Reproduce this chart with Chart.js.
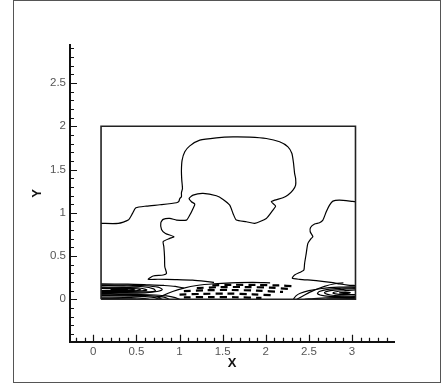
<!DOCTYPE html>
<html>
<head>
<meta charset="utf-8">
<script src="https://cdn.jsdelivr.net/npm/chart.js@4.4.0/dist/chart.umd.min.js"></script>
<style>
  html, body { margin: 0; padding: 0; background: #fff; }
  #wrap { position: relative; width: 441px; height: 387px; }
  #frame { position: absolute; left: 13px; top: 0px; width: 426px; height: 381px; border: 1.5px solid #555; pointer-events: none; }
  canvas { position: absolute; left: 0; top: 0; }
</style>
</head>
<body>
<div id="wrap">
  <canvas id="c" width="441" height="387"></canvas>
  <div id="frame"></div>
</div>
<script>
// ---- tick labels / axis extents ----
const xTickValues = [0, 0.5, 1, 1.5, 2, 2.5, 3];
const xTickLabels = ['0', '0.5', '1', '1.5', '2', '2.5', '3'];
const yTickValues = [0, 0.5, 1, 1.5, 2, 2.5];
const yTickLabels = ['0', '0.5', '1', '1.5', '2', '2.5'];
const xRange = [-0.27, 3.49];
const yRange = [-0.49, 2.94];

// ---- domain box ----
const boxX = [0.09, 3.04];
const boxY = [0, 2];

// ---- solid contour lines [x, y] ----
const contourMain = [
  [0.089,0.878],[0.289,0.878],[0.405,0.916],[0.455,0.993],[0.494,1.058],[0.617,1.078],[0.772,1.093],
  [0.965,1.116],[0.992,1.132],[1.003,1.166],[1.022,1.186],[1.022,1.232],[1.034,1.282],[1.026,1.378],
  [1.022,1.493],[1.030,1.609],[1.061,1.705],[1.119,1.774],[1.235,1.840],[1.427,1.867],[1.620,1.878],
  [1.813,1.875],[2.006,1.859],[2.160,1.821],[2.257,1.763],[2.303,1.686],[2.322,1.570],[2.334,1.455],
  [2.346,1.397],[2.346,1.320],[2.315,1.262],[2.257,1.205],[2.199,1.174],[2.103,1.147],[2.064,1.128],
  [2.114,1.078],[2.083,1.032],[2.006,0.935],[1.871,0.878],[1.775,0.897],[1.659,0.916],[1.620,0.993],
  [1.582,1.089],[1.505,1.155],[1.427,1.197],[1.273,1.224],[1.157,1.205],[1.111,1.166],[1.138,1.128],
  [1.177,1.101],[1.157,1.051],[1.119,0.974],[1.080,0.916],[0.965,0.916],[0.887,0.935],[0.810,0.924],
  [0.783,0.885],[0.791,0.808],[0.837,0.762],[0.934,0.724],[0.887,0.704],[0.810,0.666],[0.818,0.608],
  [0.826,0.493],[0.829,0.377],[0.849,0.300],[0.810,0.281],[0.694,0.269],[0.637,0.231],[0.75,0.232],
  [0.95,0.228],[1.15,0.222],[1.3,0.208],[1.4,0.195]
];
const contourRight = [
  [3.044,1.128],[3.009,1.132],[2.855,1.147],[2.778,1.135],[2.739,1.089],[2.701,1.012],[2.662,0.916],
  [2.623,0.885],[2.566,0.870],[2.519,0.831],[2.515,0.781],[2.546,0.724],[2.527,0.704],[2.488,0.647],
  [2.469,0.531],[2.450,0.416],[2.442,0.339],[2.411,0.319],[2.334,0.281],[2.307,0.243],[2.392,0.231],
  [2.585,0.216],[2.778,0.192],[2.855,0.177],[2.95,0.165],[3.04,0.16]
];
const wallLeftA = [[0.09,0.178],[0.4,0.175],[0.62,0.168],[0.82,0.16],[0.95,0.15],[1.05,0.13]];
const wallLeftA2 = [[0.09,0.168],[0.4,0.165],[0.6,0.157],[0.75,0.14],[0.8,0.115],[0.74,0.09],[0.6,0.075],[0.3,0.07],[0.09,0.068]];
const wallLeftB = [[0.09,0.158],[0.35,0.155],[0.58,0.145],[0.7,0.12],[0.72,0.095],[0.6,0.085],[0.35,0.08],[0.09,0.078]];
const wallLeftC = [[0.09,0.14],[0.35,0.138],[0.55,0.128],[0.62,0.108],[0.52,0.095],[0.3,0.092],[0.09,0.09]];
const wallLeftC2 = [[0.09,0.132],[0.3,0.13],[0.5,0.122],[0.55,0.108],[0.45,0.098],[0.09,0.095]];
const wallLeftD = [[0.09,0.125],[0.3,0.123],[0.45,0.115],[0.48,0.107],[0.4,0.1],[0.09,0.1]];
const wallLeftE = [[0.2,0.112],[0.32,0.118],[0.4,0.113],[0.32,0.105],[0.2,0.112]];
const wallLeftF = [[0.09,0.06],[0.3,0.058],[0.55,0.055],[0.72,0.05],[0.85,0.04],[0.95,0.02],[1.0,0]];
const wallLeftF2 = [[0.09,0.051],[0.3,0.049],[0.55,0.045],[0.7,0.038],[0.82,0.025],[0.88,0]];
const wallLeftG = [[0.09,0.042],[0.35,0.04],[0.6,0.032],[0.75,0.015],[0.8,0]];
const wallLeftH = [[0.09,0.025],[0.4,0.022],[0.6,0.008],[0.65,0]];
const wallLeftI = [[0.09,0.01],[0.45,0.005],[0.5,0]];
const wallRise = [[0.72,0],[0.8,0.04],[0.92,0.09],[1.05,0.13],[1.2,0.16],[1.4,0.18],[1.6,0.19],[1.85,0.195],[2.05,0.19]];
const wallRightA = [[3.04,0.145],[2.85,0.14],[2.65,0.125],[2.5,0.1],[2.4,0.07],[2.35,0.04],[2.32,0]];
const wallRightA2 = [[3.04,0.135],[2.88,0.128],[2.72,0.115],[2.62,0.09],[2.6,0.065],[2.68,0.04],[2.85,0.03],[3.04,0.03]];
const wallRightB = [[3.04,0.125],[2.9,0.115],[2.75,0.1],[2.68,0.075],[2.75,0.05],[2.9,0.04],[3.04,0.038]];
const wallRightC = [[3.04,0.108],[2.92,0.1],[2.8,0.085],[2.78,0.07],[2.85,0.058],[3.04,0.055]];
const wallRightD = [[2.85,0.075],[2.92,0.082],[2.98,0.075],[2.92,0.068],[2.85,0.075]];
const wallRightE = [[3.04,0.022],[2.8,0.02],[2.6,0.012],[2.45,0]];
const wallRightF = [[3.04,0.008],[2.75,0.005],[2.7,0]];
const wallRightRise = [[2.36,0.0],[2.45,0.05],[2.55,0.1],[2.68,0.15],[2.8,0.18],[2.9,0.19]];

// ---- dashed (negative) contour lines ----
const negA = [[1.38,0.162],[1.6,0.168],[1.9,0.166],[2.15,0.16],[2.33,0.152]];
const negB = [[1.2,0.13],[1.45,0.14],[1.75,0.142],[2.05,0.135],[2.28,0.12]];
const negC = [[1.05,0.095],[1.3,0.105],[1.6,0.108],[1.9,0.1],[2.2,0.085]];
const negD = [[1.0,0.055],[1.25,0.062],[1.55,0.066],[1.85,0.058],[2.1,0.045]];
const negE = [[1.05,0.022],[1.35,0.026],[1.65,0.024],[1.95,0.016]];

const solidLines = [contourMain, contourRight, wallLeftA, wallLeftA2, wallLeftB, wallLeftC, wallLeftC2,
  wallLeftD, wallLeftE, wallLeftF, wallLeftF2, wallLeftG, wallLeftH, wallLeftI, wallRise, wallRightA,
  wallRightA2, wallRightB, wallRightC, wallRightD, wallRightE, wallRightF, wallRightRise];
const dashedLines = [negA, negB, negC, negD, negE];

const toPts = arr => arr.map(p => ({x: p[0], y: p[1]}));
const datasets = [];
datasets.push({
  data: toPts([[boxX[0],boxY[0]],[boxX[1],boxY[0]],[boxX[1],boxY[1]],[boxX[0],boxY[1]],[boxX[0],boxY[0]]]),
  showLine: true, borderColor: '#222', borderWidth: 1.6, pointRadius: 0, fill: false, tension: 0
});
solidLines.forEach((l, i) => datasets.push({
  data: toPts(l), showLine: true, borderColor: '#000', borderWidth: 1.2, pointRadius: 0,
  fill: false, tension: i < 2 ? 0.2 : 0.3
}));
dashedLines.forEach(l => datasets.push({
  data: toPts(l), showLine: true, borderColor: '#000', borderWidth: 2.2, borderDash: [7, 5],
  pointRadius: 0, fill: false, tension: 0.3
}));

const tickMarks = {
  id: 'tickMarks',
  afterDraw(chart) {
    const ctx = chart.ctx, xs = chart.scales.x, ys = chart.scales.y;
    ctx.save();
    ctx.strokeStyle = '#111';
    ctx.lineWidth = 1.2;
    ctx.beginPath();
    for (let i = -2; i <= 34; i++) {
      const v = i / 10, px = Math.round(xs.getPixelForValue(v)) + 0.5;
      const len = (i % 5 === 0) ? 7 : 4;
      ctx.moveTo(px, xs.top); ctx.lineTo(px, xs.top - len);
    }
    for (let i = -4; i <= 29; i++) {
      const v = i / 10, py = Math.round(ys.getPixelForValue(v)) + 0.5;
      const len = (i % 5 === 0) ? 7 : 4;
      ctx.moveTo(ys.right, py); ctx.lineTo(ys.right + len, py);
    }
    ctx.stroke();
    ctx.restore();
  }
};

new Chart(document.getElementById('c'), {
  type: 'scatter',
  data: { datasets },
  plugins: [tickMarks],
  options: {
    responsive: false,
    animation: false,
    devicePixelRatio: 1,
    layout: { padding: { left: 20, top: 45, right: 46.7, bottom: 0 } },
    plugins: { legend: { display: false }, tooltip: { enabled: false } },
    scales: {
      x: {
        type: 'linear', min: xRange[0], max: xRange[1],
        afterFit(s) { s.height = 45.3; },
        afterBuildTicks(s) { s.ticks = xTickValues.map(v => ({value: v})); },
        grid: { display: false, drawTicks: false },
        border: { display: true, color: '#111', width: 2 },
        ticks: {
          padding: 3, color: '#555', font: { family: 'Liberation Sans', size: 11.5 },
          maxRotation: 0, autoSkip: false,
          callback: (v) => { const i = xTickValues.indexOf(v); return i >= 0 ? xTickLabels[i] : ''; }
        },
        title: { display: true, text: 'X', color: '#111', font: { family: 'Liberation Sans', size: 13, weight: 'bold' }, padding: { top: 0, bottom: 16 } }
      },
      y: {
        type: 'linear', min: yRange[0], max: yRange[1],
        afterFit(s) { s.width = 50; },
        afterBuildTicks(s) { s.ticks = yTickValues.map(v => ({value: v})); },
        grid: { display: false, drawTicks: false },
        border: { display: true, color: '#111', width: 2 },
        ticks: {
          padding: 4, color: '#555', font: { family: 'Liberation Sans', size: 11.5 },
          autoSkip: false,
          callback: (v) => { const i = yTickValues.indexOf(v); return i >= 0 ? yTickLabels[i] : ''; }
        },
        title: { display: true, text: 'Y', color: '#111', font: { family: 'Liberation Sans', size: 13, weight: 'bold' }, padding: { top: 10, bottom: 0 } }
      }
    }
  }
});
</script>
</body>
</html>
